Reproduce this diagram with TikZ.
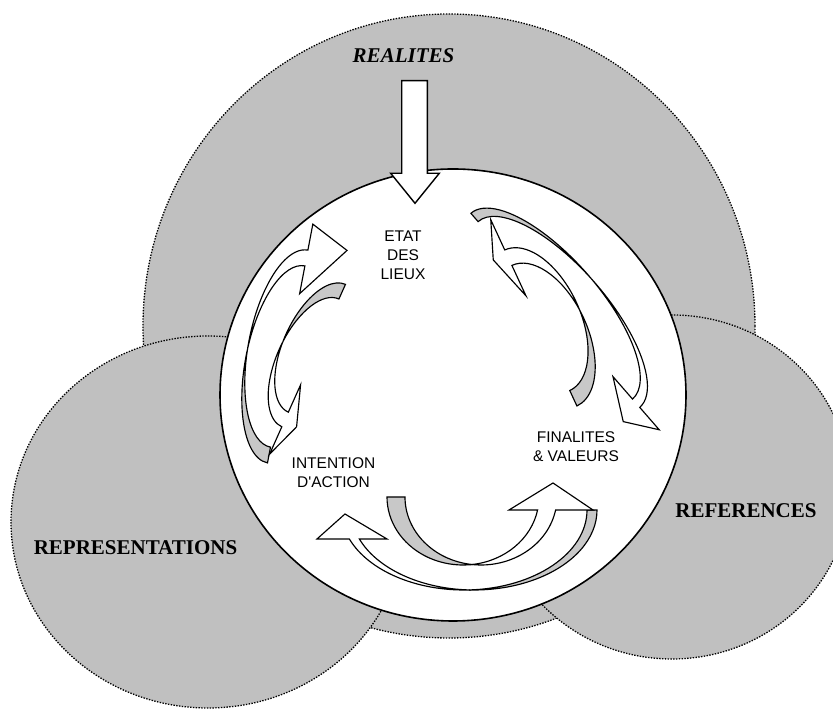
\documentclass[tikz,border=0pt]{standalone}
\usepackage{fontspec}
\setmainfont{Liberation Serif}
\newfontfamily\labelsans{Liberation Sans}

\definecolor{disc}{RGB}{192,192,192}
\definecolor{bandgray}{RGB}{200,200,200}

\tikzset{
  zone/.style={fill=disc, draw=black, line width=1.3pt, dash pattern=on 1.4pt off 1.4pt},
  ring/.style={fill=white, draw=black, line width=1.6pt},
  bandback/.style={fill=bandgray, draw=black, line width=1.15pt, line join=miter},
  bandfront/.style={fill=white, draw=black, line width=1.15pt, line join=miter},
  blockarrow/.style={fill=white, draw=black, line width=1.4pt, line join=miter},
  bigword/.style={font=\fontsize{21}{25}\selectfont\bfseries, inner sep=0pt},
  smallword/.style={font=\labelsans\fontsize{15.5}{19}\selectfont, align=center, inner sep=0pt},
}

% Twisted curved arrow: a shaded back band and a white front band with head.
% #1 cm transform, #2 half width, #3 depth, #4 band thickness, #5 head base level,
% #6 inner head half width, #7 outer head half width, #8 head length, #9 tip shift
\newcommand{\bentarrow}[9]{%
  \begin{scope}[cm={#1}]
    \pgfmathsetmacro\bwR{#2}%
    \pgfmathsetmacro\bh{#3}%
    \pgfmathsetmacro\bth{#4}%
    \pgfmathsetmacro\byb{#5}%
    \pgfmathsetmacro\bca{acos(\bth/(2*\bwR))}%
    \pgfmathsetmacro\bcb{180-\bca}%
    \pgfmathsetmacro\bpb{asin(\byb/\bh)}%
    \pgfmathsetmacro\bax{\bwR*cos(\bpb)}%
    \pgfmathsetmacro\bm{\bax+\bth/2}%
    \pgfmathsetmacro\bcy{\bh*sin(\bca)}%
    \path[bandback] (-\bwR,0)
      arc[start angle=180, end angle=\bca, x radius=\bwR, y radius=\bh]
      arc[start angle=\bcb, end angle=180, x radius=\bwR, y radius=\bh] -- cycle;
    \path[bandfront] (\bth/2,\bcy)
      arc[start angle=\bcb, end angle=\bpb, x radius=\bwR, y radius=\bh]
      -- (\bm+#7,\byb) -- (\bm+#9,\byb-#8) -- (\bm-#6,\byb) -- (\bax,\byb)
      arc[start angle=\bpb, end angle=\bca, x radius=\bwR, y radius=\bh] -- cycle;
  \end{scope}}

\begin{document}
\begin{tikzpicture}[x=1pt, y=1pt]
  \useasboundingbox (0,0) rectangle (833,711);
  \fill[white] (0,0) rectangle (833,711);
  \clip (0,0) rectangle (833,711);

  % the three shaded spheres
  \path[zone] (449,385) ellipse [x radius=306, y radius=312];
  \path[zone] (208,189) ellipse [x radius=197, y radius=186];
  \path[zone] (672,224) ellipse [x radius=178, y radius=172];

  % central disc
  \path[ring] (453,316) ellipse [x radius=233, y radius=226];

  % incoming block arrow from the top
  \path[blockarrow] (401.7,630.3) -- (427.3,630.3) -- (427.3,537.7) -- (439.3,537.7)
    -- (415,507.7) -- (390.7,537.7) -- (401.7,537.7) -- cycle;

  % left pair
  \bentarrow{0.187,0.985,-0.982,0.187,(286.2,346.6)}{100}{41}{16}{0}{36.2}{34.4}{38.5}{15}
  \bentarrow{-0.408,-0.913,-0.913,0.408,(316.9,362.7)}{70}{34}{16}{0}{38}{38}{13.5}{2}
  % right pair
  \bentarrow{0.656,-0.754,0.754,0.656,(551.7,404.8)}{123.2}{48}{11}{0}{35.3}{35.2}{21.8}{5.4}
  \bentarrow{-0.42,0.908,0.908,0.42,(544.4,375.3)}{77.4}{43}{17}{0}{42}{41.8}{14.6}{4.3}
  % bottom pair
  \bentarrow{-1,0,0,-1,(474,201)}{123}{80}{10}{29}{32.6}{37.4}{25}{9.4}
  \bentarrow{1,0,0,-1,(463,214)}{76}{68}{18}{13}{37.6}{46.4}{27}{6.4}

  % labels
  \node[bigword, font=\fontsize{21}{25}\selectfont\bfseries\itshape] (realites) at (403.5,655.5) {REALITES};
  \node[bigword] (representations) at (135.5,163) {REPRESENTATIONS};
  \node[bigword] (references) at (746,200) {REFERENCES};
  \node[smallword] (etat) at (403,455.5) {ETAT\\DES\\LIEUX};
  \node[smallword] (intention) at (333.5,238.5) {INTENTION\\D'ACTION};
  \node[smallword] (finalites) at (576,264.5) {FINALITES\\\& VALEURS};
\end{tikzpicture}
\end{document}
